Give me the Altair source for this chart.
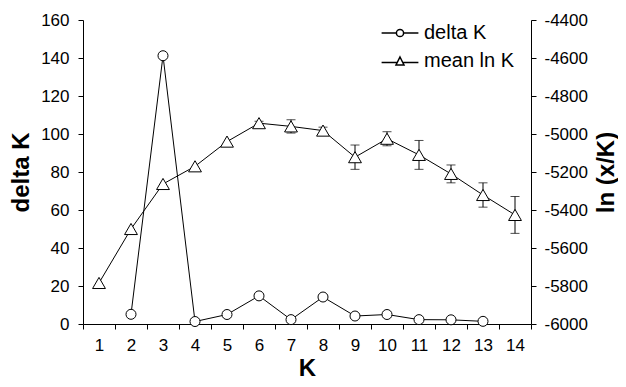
import altair as alt
import pandas as pd

# ---- data ----
K = list(range(1, 15))
delta_k = [None, 5.1, 141.2, 1.3, 5.0, 14.8, 2.3, 14.2, 4.2, 5.0, 2.3, 2.2, 1.4, None]
mean_ln_k = [-5784, -5500, -5263, -5170, -5040, -4943, -4960, -4982,
             -5122, -5025, -5110, -5210, -5321, -5426]
sd_ln_k = [0, 0, 0, 0, 0, 10, 35, 18, 64, 37, 76, 47, 64, 97]
series_names = ["delta K", "mean ln K"]
left_ticks = [0, 20, 40, 60, 80, 100, 120, 140, 160]
right_ticks = [-6000, -5800, -5600, -5400, -5200, -5000, -4800, -4600, -4400]

df = pd.DataFrame({"K": K, "delta": delta_k, "mean": mean_ln_k, "sd": sd_ln_k})
df["lo"] = df["mean"] - df["sd"]
df["hi"] = df["mean"] + df["sd"]
df["series"] = series_names[0]

FONT = "Liberation Sans"

# legend symbols: line with marker in the middle
circle_path = ("M-2.3,0L-0.45,0M0.45,0L2.3,0"
               "M-0.45,0A0.45,0.45,0,1,1,0.45,0A0.45,0.45,0,1,1,-0.45,0Z")
tri_path = ("M-2.3,0.2L-0.35,0.2M0.35,0.2L2.3,0.2"
            "M0,-0.5L0.5,0.5L-0.5,0.5Z")

x = alt.X(
    "K:O",
    scale=alt.Scale(type="band", paddingInner=0, paddingOuter=0),
    axis=alt.Axis(title="K", tickBand="extent", labelAngle=0, labelPadding=8,
                  titleX=224, titleY=51, titleBaseline="alphabetic"),
)

left_axis = alt.Axis(title="delta K", values=left_ticks, labelPadding=9,
                     titleX=-55, titleY=152, titleAngle=270,
                     titleBaseline="alphabetic", titleAlign="center")
right_axis = alt.Axis(title="ln (x/K)", orient="right", values=right_ticks,
                      labelExpr="datum.value + ''", labelPadding=8,
                      titleX=82, titleY=152, titleAngle=270,
                      titleBaseline="alphabetic", titleAlign="center")
left_scale = alt.Scale(domain=[0, 160], nice=False, zero=False)
right_scale = alt.Scale(domain=[-6000, -4400], nice=False, zero=False)

base = alt.Chart(df)
valid = base.transform_filter("isValid(datum.delta)")

delta_line = valid.mark_line(color="black", strokeWidth=1).encode(
    x=x, y=alt.Y("delta:Q", scale=left_scale, axis=left_axis))
delta_pts = valid.mark_point(shape="circle", filled=True, fill="white",
                             stroke="black", strokeWidth=1, size=100,
                             opacity=1).encode(
    x=x, y=alt.Y("delta:Q", scale=left_scale, axis=left_axis))

legend_layer = base.transform_filter("false").mark_point(
    filled=False, color="black", fill="white", stroke="black",
    strokeWidth=1, opacity=1
).encode(
    shape=alt.Shape(
        "series:N",
        scale=alt.Scale(domain=series_names, range=[circle_path, tri_path]),
        legend=alt.Legend(title=None, orient="none", legendX=307, legendY=3,
                          symbolSize=256, labelFont=FONT, labelFontSize=20,
                          labelColor="black", labelOffset=14, rowPadding=8),
    )
)

mean_line = base.mark_line(color="black", strokeWidth=1).encode(
    x=x, y=alt.Y("mean:Q", scale=right_scale, axis=right_axis))
err = base.transform_filter("datum.sd > 0")
err_rule = err.mark_rule(color="black", strokeWidth=1).encode(
    x=x, y=alt.Y("lo:Q", scale=right_scale, axis=right_axis), y2="hi:Q")
cap_hi = err.mark_tick(color="black", size=9, thickness=1).encode(
    x=x, y=alt.Y("hi:Q", scale=right_scale, axis=right_axis))
cap_lo = err.mark_tick(color="black", size=9, thickness=1).encode(
    x=x, y=alt.Y("lo:Q", scale=right_scale, axis=right_axis))
mean_pts = base.mark_point(shape="triangle-up", filled=True, fill="white",
                           stroke="black", strokeWidth=1, size=165,
                           opacity=1).encode(
    x=x, y=alt.Y("mean:Q", scale=right_scale, axis=right_axis))

left = alt.layer(delta_line, delta_pts)
right = alt.layer(mean_line, err_rule, cap_hi, cap_lo, mean_pts)

chart = alt.layer(left, right, legend_layer).resolve_scale(y="independent").properties(
    width=448, height=304,
    autosize=alt.AutoSizeParams(type="none"),
    padding={"left": 75, "top": 12, "right": 87, "bottom": 55},
).configure_view(stroke=None).configure_axis(
    grid=False, labelFont=FONT, labelFontSize=17, labelColor="black",
    titleFont=FONT, titleFontSize=24, titleFontWeight="bold", titleColor="black",
    domainColor="black", domainWidth=1, tickColor="black", tickWidth=1, tickSize=5,
)

chart.save("out.html", embed_options={"renderer": "svg", "actions": False})
